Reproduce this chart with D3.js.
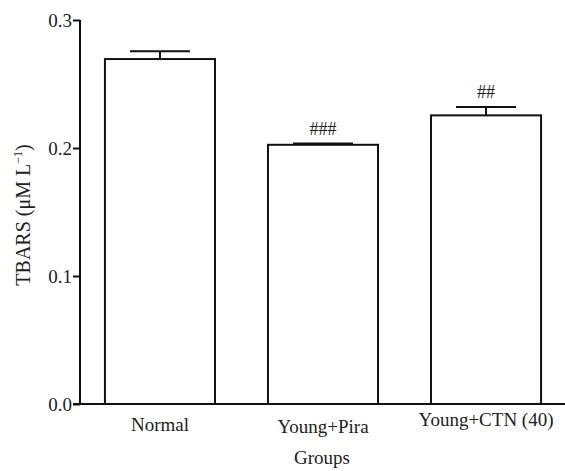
<!DOCTYPE html>
<html>
<head>
<meta charset="utf-8">
<script src="https://cdn.jsdelivr.net/npm/d3@7"></script>
<style>
  body { margin: 0; background: #fff; }
  svg text { font-family: "Liberation Serif", "Times New Roman", serif; fill: #222; }
  .axis path, .axis line { stroke: #111; stroke-width: 2; }
</style>
</head>
<body>
<svg width="565" height="471"></svg>
<script>
// chart data
var groups = ["Normal", "Young+Pira", "Young+CTN (40)"];
var means = [0.2695, 0.2025, 0.2255];
var errors = [0.006, 0.001, 0.0065];
var marks = ["", "###", "##"];
var yTicks = [0.0, 0.1, 0.2, 0.3];

var svg = d3.select("svg"),
    margin = {top: 20, right: 0, bottom: 67, left: 80},
    width = +svg.attr("width") - margin.left - margin.right,
    height = +svg.attr("height") - margin.top - margin.bottom;

var g = svg.append("g")
    .attr("transform", "translate(" + margin.left + "," + margin.top + ")");

// scales
var x = d3.scaleBand().domain(groups).range([0, 486]).paddingInner(0.325).paddingOuter(0.153);
var y = d3.scaleLinear().domain([0, 0.3]).range([height, 0]);

// bars
g.selectAll(".bar")
    .data(means)
    .enter().append("rect")
    .attr("class", "bar")
    .attr("x", (d, i) => x(groups[i]))
    .attr("y", (d) => y(d))
    .attr("width", x.bandwidth())
    .attr("height", (d) => height - y(d))
    .attr("fill", "#fff")
    .attr("stroke", "#111")
    .attr("stroke-width", 2);

// error bars
var capW = 60;
g.selectAll(".err")
    .data(means)
    .enter().append("line")
    .attr("x1", (d, i) => x(groups[i]) + x.bandwidth() / 2)
    .attr("x2", (d, i) => x(groups[i]) + x.bandwidth() / 2)
    .attr("y1", (d) => y(d))
    .attr("y2", (d, i) => y(d + errors[i]))
    .attr("stroke", "#111")
    .attr("stroke-width", 2);

g.selectAll(".cap")
    .data(means)
    .enter().append("line")
    .attr("x1", (d, i) => x(groups[i]) + x.bandwidth() / 2 - capW / 2)
    .attr("x2", (d, i) => x(groups[i]) + x.bandwidth() / 2 + capW / 2)
    .attr("y1", (d, i) => y(d + errors[i]))
    .attr("y2", (d, i) => y(d + errors[i]))
    .attr("stroke", "#111")
    .attr("stroke-width", 2);

// significance marks
g.selectAll(".mark")
    .data(means)
    .enter().append("text")
    .attr("x", (d, i) => x(groups[i]) + x.bandwidth() / 2)
    .attr("y", (d, i) => y(d + errors[i]) - 9)
    .attr("text-anchor", "middle")
    .style("font-size", "18px")
    .text((d, i) => marks[i]);

// y axis
g.append("g")
    .attr("class", "axis")
    .call(d3.axisLeft(y).tickValues(yTicks).tickFormat(d3.format(".1f")).tickSize(7).tickPadding(1))
    .call((a) => a.select(".domain").attr("d", "M0," + (height + 1) + "V0"))
    .selectAll("text").style("font-size", "19px");

// x axis
g.append("g")
    .attr("class", "axis")
    .attr("transform", "translate(0," + height + ")")
    .call(d3.axisBottom(x).tickSize(0))
    .call((a) => a.select(".domain").attr("d", "M-7,0H" + (width + 1)))
    .selectAll("text").style("font-size", "19px")
    .attr("dy", 0)
    .attr("y", (d, i) => [27, 29, 22][i]);

// axis labels
svg.append("text")
    .attr("transform", "translate(30,215) rotate(-90)")
    .attr("text-anchor", "middle")
    .style("font-size", "20px")
    .html("TBARS (&#956;M L<tspan dy='-8' font-size='12'>&#8722;1</tspan><tspan dy='8'>)</tspan>");

svg.append("text")
    .attr("x", 322)
    .attr("y", 464)
    .attr("text-anchor", "middle")
    .style("font-size", "19px")
    .text("Groups");
</script>
</body>
</html>
